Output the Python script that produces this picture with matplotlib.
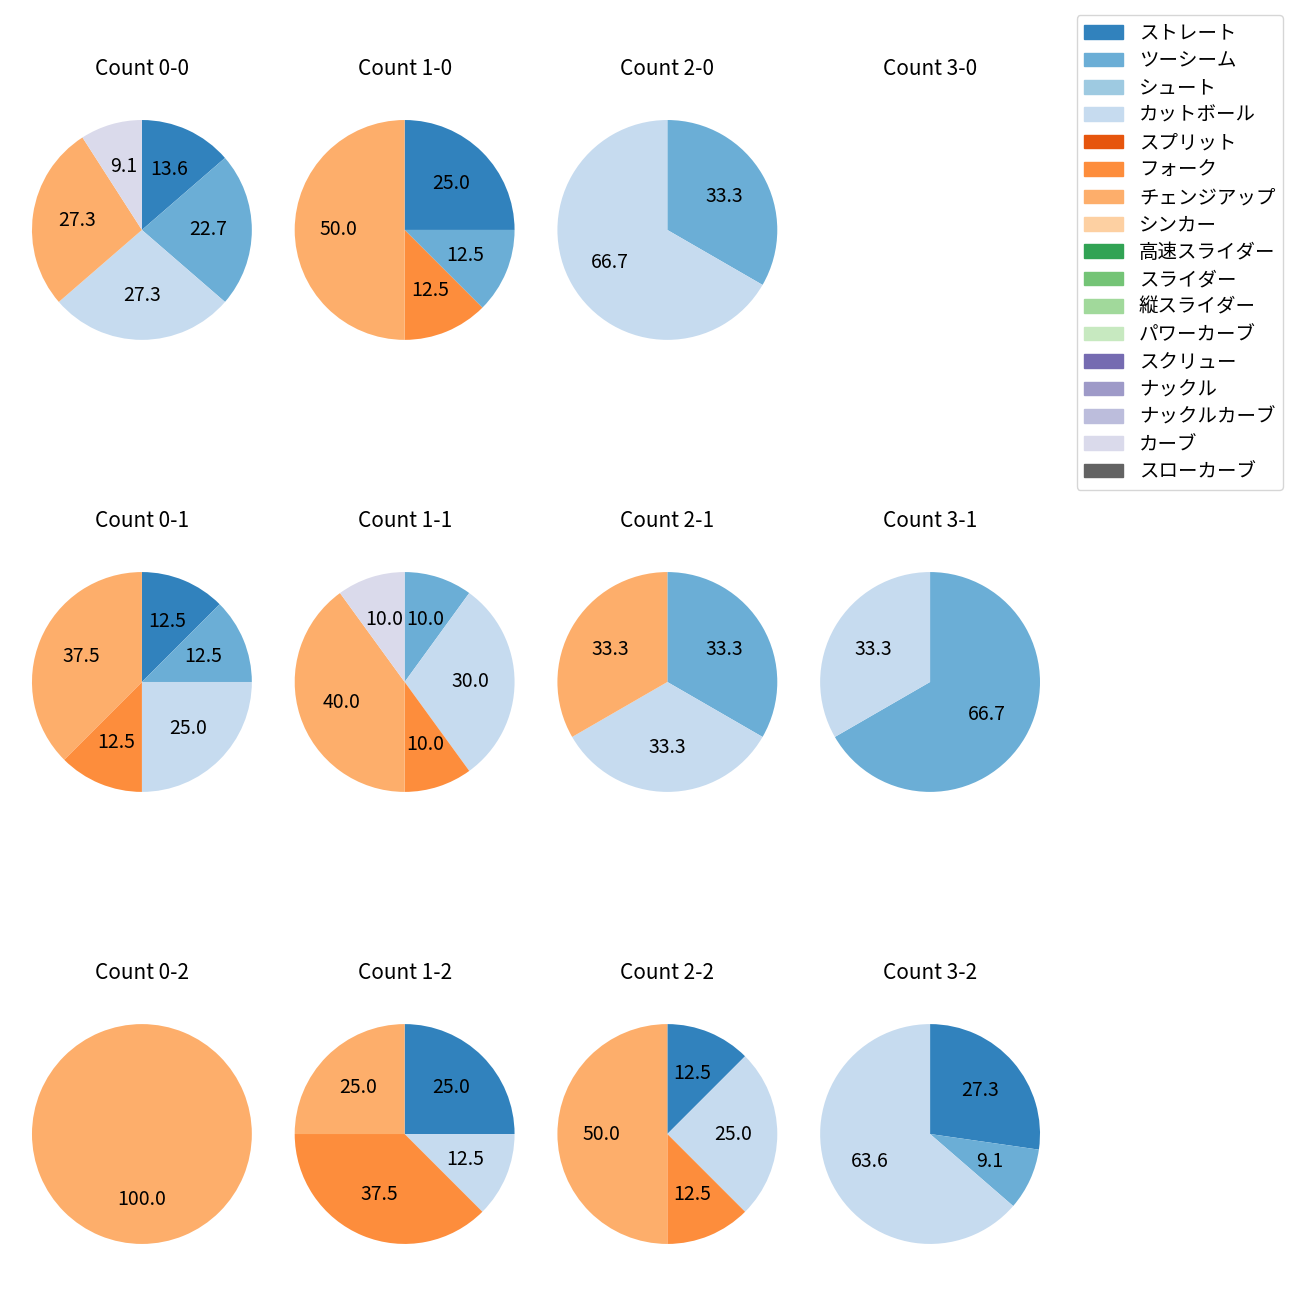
import matplotlib
matplotlib.use("Agg")
import matplotlib.pyplot as plt
import matplotlib.patches as mpatches

plt.rcParams['font.family'] = ['Noto Sans CJK JP', 'DejaVu Sans']
plt.rcParams['font.size'] = 14

# 球種（凡例の順）
pitch_types = ['ストレート', 'ツーシーム', 'シュート', 'カットボール', 'スプリット',
               'フォーク', 'チェンジアップ', 'シンカー', '高速スライダー', 'スライダー',
               '縦スライダー', 'パワーカーブ', 'スクリュー', 'ナックル', 'ナックルカーブ',
               'カーブ', 'スローカーブ']

balls = [0, 1, 2, 3]
strikes = [0, 1, 2]

# 各カウントの球数（pitch_types と同じ順）
#              St Tw Sh Cu Sp Fo Ch Si HS Sl VS PC Sc Kn KC Cv SC
counts_0_0 = [3, 5, 0, 6, 0, 0, 6, 0, 0, 0, 0, 0, 0, 0, 0, 2, 0]
counts_1_0 = [2, 1, 0, 0, 0, 1, 4, 0, 0, 0, 0, 0, 0, 0, 0, 0, 0]
counts_2_0 = [0, 1, 0, 2, 0, 0, 0, 0, 0, 0, 0, 0, 0, 0, 0, 0, 0]
counts_3_0 = [0, 0, 0, 0, 0, 0, 0, 0, 0, 0, 0, 0, 0, 0, 0, 0, 0]
counts_0_1 = [1, 1, 0, 2, 0, 1, 3, 0, 0, 0, 0, 0, 0, 0, 0, 0, 0]
counts_1_1 = [0, 1, 0, 3, 0, 1, 4, 0, 0, 0, 0, 0, 0, 0, 0, 1, 0]
counts_2_1 = [0, 1, 0, 1, 0, 0, 1, 0, 0, 0, 0, 0, 0, 0, 0, 0, 0]
counts_3_1 = [0, 2, 0, 1, 0, 0, 0, 0, 0, 0, 0, 0, 0, 0, 0, 0, 0]
counts_0_2 = [0, 0, 0, 0, 0, 0, 1, 0, 0, 0, 0, 0, 0, 0, 0, 0, 0]
counts_1_2 = [2, 0, 0, 1, 0, 3, 2, 0, 0, 0, 0, 0, 0, 0, 0, 0, 0]
counts_2_2 = [1, 0, 0, 2, 0, 1, 4, 0, 0, 0, 0, 0, 0, 0, 0, 0, 0]
counts_3_2 = [3, 1, 0, 7, 0, 0, 0, 0, 0, 0, 0, 0, 0, 0, 0, 0, 0]

grid = [
    [counts_0_0, counts_1_0, counts_2_0, counts_3_0],
    [counts_0_1, counts_1_1, counts_2_1, counts_3_1],
    [counts_0_2, counts_1_2, counts_2_2, counts_3_2],
]

cmap = plt.get_cmap('tab20c')
colors = [cmap(i) for i in range(len(pitch_types))]

fig, axes = plt.subplots(3, 4, figsize=(13, 13), dpi=100)
fig.subplots_adjust(left=0.0246, right=0.8, top=0.9358, bottom=0.015,
                    wspace=0.195, hspace=0.543)

for r, s in enumerate(strikes):
    for c, b in enumerate(balls):
        ax = axes[r][c]
        vals = grid[r][c]
        idx = [i for i, v in enumerate(vals) if v > 0]
        ax.set_title(f'Count {b}-{s}', fontsize=15)
        if not idx:
            ax.axis('off')
            continue
        ax.pie([vals[i] for i in idx], colors=[colors[i] for i in idx],
               startangle=90, counterclock=False, autopct='%.1f')
        ax.set_xlim(-1.0, 1.0)
        ax.set_ylim(-1.332, 1.332)

handles = [mpatches.Patch(color=colors[i], label=p) for i, p in enumerate(pitch_types)]
fig.legend(handles=handles, loc='upper right', bbox_to_anchor=(0.987, 0.9885),
           borderaxespad=0, fontsize=14, labelspacing=0.33)

fig.savefig('out.png')
